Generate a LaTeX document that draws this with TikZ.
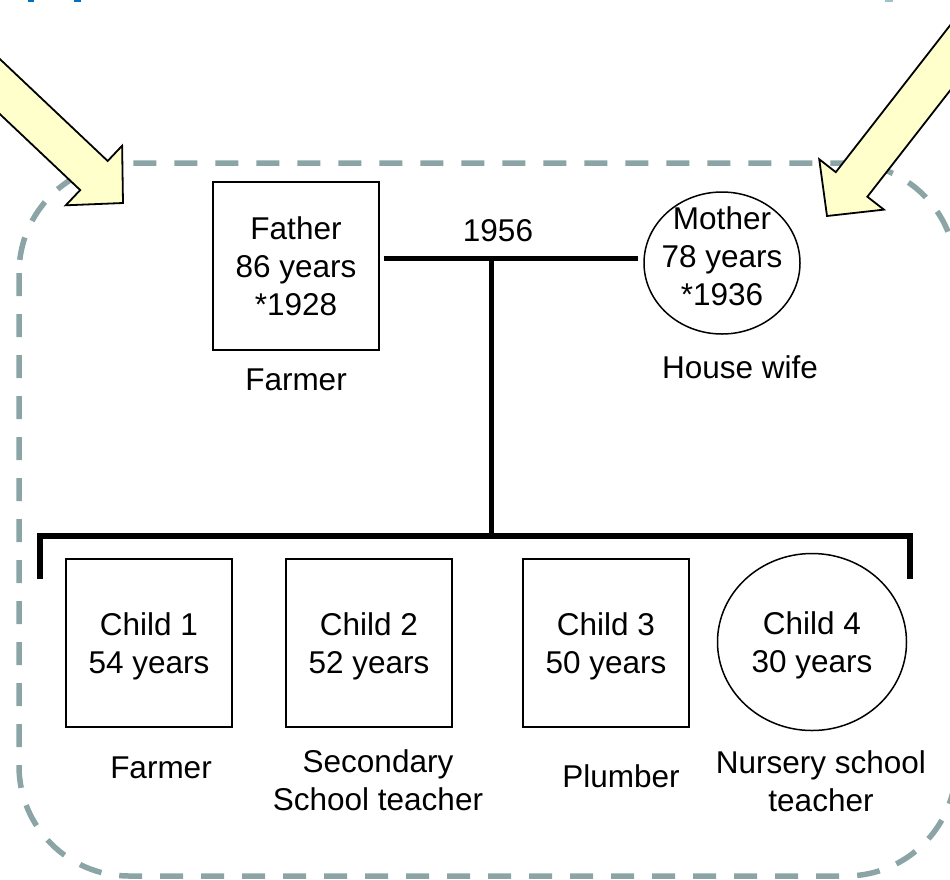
\documentclass[tikz,border=0pt]{standalone}
\usepackage{fontspec}
\setmainfont{Liberation Sans}
\usetikzlibrary{shapes.geometric}

\definecolor{framegray}{HTML}{8BA5A7}
\definecolor{arrowfill}{HTML}{FFFFCC}
\definecolor{slideblue}{HTML}{0070C0}
\definecolor{slideteal}{HTML}{9CC3C9}

\tikzset{
  txt/.style={font=\fontsize{31.5}{38}\selectfont, align=center,
    inner sep=0pt, text height=22.6pt, text depth=0pt},
  twolines/.style={text height=60.6pt},
  threelines/.style={text height=98.6pt},
  personbox/.style={txt, draw=black, line width=1.3pt,
    minimum width=166pt, minimum height=168pt},
  personoval/.style={draw=black, line width=1.5pt, ellipse},
  bar/.style={line width=5pt, black},
  kidbar/.style={line width=6pt, black},
  frame/.style={draw=framegray, line width=5.5pt, dash pattern=on 23pt off 18pt,
    rounded corners=110pt},
  bigarrow/.pic={
    \draw[fill=arrowfill, draw=black, line width=1.8pt, line join=miter]
      (0,0) -- (-40,41) -- (-40,20) -- (-280,20) -- (-280,-20)
      -- (-40,-20) -- (-40,-41) -- cycle;
  }
}

\begin{document}
\begin{tikzpicture}[x=1pt,y=-1pt]
\useasboundingbox (0,0) rectangle (950,879);
\clip (0,0) rectangle (950,879);

% fragments of the slide heading above
\fill[slideblue] (28,0) rectangle (34,2.2);
\fill[slideblue] (74,0) rectangle (81,2.2);
\fill[slideteal] (885,0) rectangle (893,1.6);

% dashed frame round the family
\draw[frame] (19,163) rectangle (956,876);

% pointing arrows
\pic[rotate=-43.4] at (123,203) {bigarrow};
\pic[rotate=-127.9] at (827,216) {bigarrow};

% parents
\node[personbox, threelines] (father) at (296,266) {Father\\86 years\\*1928};
\node[personoval, minimum width=156pt, minimum height=142pt] (mother) at (722,263) {};
\node[txt, threelines] (mothertxt) at (722,256) {Mother\\78 years\\*1936};
\node[txt] (year) at (498,230) {1956};
\node[txt] (fatherjob) at (296,379) {Farmer};
\node[txt] (motherjob) at (740,367) {House wife};

% children
\node[personbox, twolines] (kid1) at (149,643) {Child 1\\54 years};
\node[personbox, twolines] (kid2) at (369,643) {Child 2\\52 years};
\node[personbox, twolines] (kid3) at (606,643) {Child 3\\50 years};
\node[txt, twolines, personoval, minimum width=189pt, minimum height=177pt] (kid4) at (812,642) {Child 4\\30 years};

\node[txt] (job1) at (161,767) {Farmer};
\node[txt, twolines] (job2) at (378,780) {Secondary\\School teacher};
\node[txt] (job3) at (621,776) {Plumber};
\node[txt, twolines] (job4) at (821,781) {Nursery school\\teacher};

% lines of descent
\coordinate (m) at (491,258);
\coordinate (c) at (491,536);
\coordinate (cl) at (40,579);
\coordinate (cr) at (910,579);
\draw[bar, shorten <=4pt, shorten >=5pt] (father.east |- m) -- (mother.west |- m);
\draw[bar] (m) -- (c);
\draw[kidbar] (cl) -- (cl |- c) -- (cr |- c) -- (cr);
\end{tikzpicture}
\end{document}
